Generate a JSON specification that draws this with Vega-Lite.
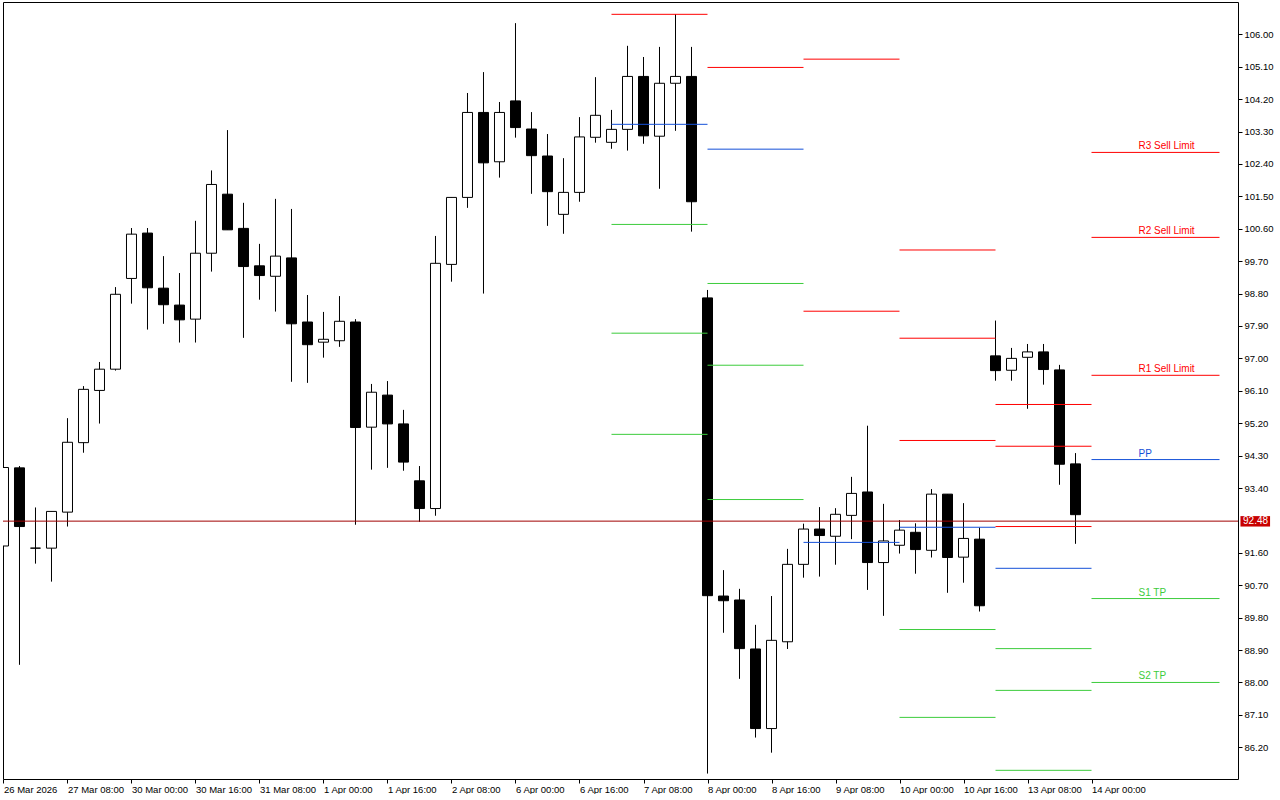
{
  "$schema": "https://vega.github.io/schema/vega-lite/v6.json",
  "width": 1235,
  "height": 777,
  "padding": {"left": 2, "top": 2, "right": 0, "bottom": 0},
  "autosize": {"type": "pad"},
  "background": "white",
  "config": {
    "font": "Liberation Sans",
    "view": {"stroke": "black", "strokeWidth": 1},
    "scale": {"continuousPadding": 0},
    "axis": {"grid": false, "domain": false, "tickColor": "black", "labelColor": "black", "tickSize": 4, "labelFontSize": 9.5, "labelFont": "Liberation Sans", "title": null, "labelOverlap": false}
  },
  "datasets": {
    "candles": [
      {"i": 0, "t": "26 Mar 16:00", "o": 91.79, "h": 93.97, "l": 91.79, "c": 93.97},
      {"i": 1, "t": "26 Mar 20:00", "o": 93.96, "h": 94.01, "l": 88.49, "c": 92.33},
      {"i": 2, "t": "27 Mar 00:00", "o": 91.73, "h": 92.86, "l": 91.30, "c": 91.73},
      {"i": 3, "t": "27 Mar 04:00", "o": 91.73, "h": 92.75, "l": 90.80, "c": 92.75},
      {"i": 4, "t": "27 Mar 08:00", "o": 92.73, "h": 95.34, "l": 92.33, "c": 94.67},
      {"i": 5, "t": "27 Mar 12:00", "o": 94.66, "h": 96.23, "l": 94.38, "c": 96.14},
      {"i": 6, "t": "27 Mar 16:00", "o": 96.11, "h": 96.90, "l": 95.19, "c": 96.70},
      {"i": 7, "t": "27 Mar 20:00", "o": 96.70, "h": 98.98, "l": 96.66, "c": 98.78},
      {"i": 8, "t": "30 Mar 00:00", "o": 99.22, "h": 100.62, "l": 98.52, "c": 100.45},
      {"i": 9, "t": "30 Mar 04:00", "o": 100.48, "h": 100.62, "l": 97.80, "c": 98.96},
      {"i": 10, "t": "30 Mar 08:00", "o": 98.95, "h": 99.84, "l": 97.96, "c": 98.49},
      {"i": 11, "t": "30 Mar 12:00", "o": 98.48, "h": 99.37, "l": 97.44, "c": 98.07},
      {"i": 12, "t": "30 Mar 16:00", "o": 98.09, "h": 100.82, "l": 97.44, "c": 99.92},
      {"i": 13, "t": "30 Mar 20:00", "o": 99.92, "h": 102.22, "l": 99.41, "c": 101.83},
      {"i": 14, "t": "31 Mar 00:00", "o": 101.56, "h": 103.34, "l": 100.57, "c": 100.57},
      {"i": 15, "t": "31 Mar 04:00", "o": 100.61, "h": 101.32, "l": 97.57, "c": 99.55},
      {"i": 16, "t": "31 Mar 08:00", "o": 99.57, "h": 100.18, "l": 98.63, "c": 99.30},
      {"i": 17, "t": "31 Mar 12:00", "o": 99.28, "h": 101.43, "l": 98.30, "c": 99.84},
      {"i": 18, "t": "31 Mar 16:00", "o": 99.79, "h": 101.15, "l": 96.35, "c": 97.96},
      {"i": 19, "t": "31 Mar 20:00", "o": 98.01, "h": 98.76, "l": 96.32, "c": 97.38},
      {"i": 20, "t": "1 Apr 00:00", "o": 97.45, "h": 98.29, "l": 97.02, "c": 97.53},
      {"i": 21, "t": "1 Apr 04:00", "o": 97.49, "h": 98.73, "l": 97.32, "c": 98.03},
      {"i": 22, "t": "1 Apr 08:00", "o": 98.01, "h": 98.09, "l": 92.38, "c": 95.08},
      {"i": 23, "t": "1 Apr 12:00", "o": 95.09, "h": 96.29, "l": 93.91, "c": 96.06},
      {"i": 24, "t": "1 Apr 16:00", "o": 95.98, "h": 96.37, "l": 93.96, "c": 95.18},
      {"i": 25, "t": "1 Apr 20:00", "o": 95.18, "h": 95.57, "l": 93.88, "c": 94.12},
      {"i": 26, "t": "2 Apr 00:00", "o": 93.60, "h": 94.01, "l": 92.46, "c": 92.83},
      {"i": 27, "t": "2 Apr 04:00", "o": 92.83, "h": 100.40, "l": 92.63, "c": 99.64},
      {"i": 28, "t": "2 Apr 08:00", "o": 99.61, "h": 101.47, "l": 99.13, "c": 101.47},
      {"i": 29, "t": "2 Apr 12:00", "o": 101.47, "h": 104.37, "l": 101.18, "c": 103.83},
      {"i": 30, "t": "2 Apr 16:00", "o": 103.83, "h": 104.95, "l": 98.80, "c": 102.43},
      {"i": 31, "t": "2 Apr 20:00", "o": 102.46, "h": 104.12, "l": 102.02, "c": 103.83},
      {"i": 32, "t": "6 Apr 00:00", "o": 104.15, "h": 106.31, "l": 103.13, "c": 103.41},
      {"i": 33, "t": "6 Apr 04:00", "o": 103.37, "h": 103.84, "l": 101.57, "c": 102.63},
      {"i": 34, "t": "6 Apr 08:00", "o": 102.62, "h": 103.23, "l": 100.68, "c": 101.63},
      {"i": 35, "t": "6 Apr 12:00", "o": 101.00, "h": 102.56, "l": 100.46, "c": 101.61},
      {"i": 36, "t": "6 Apr 16:00", "o": 101.61, "h": 103.70, "l": 101.35, "c": 103.15},
      {"i": 37, "t": "6 Apr 20:00", "o": 103.14, "h": 104.81, "l": 102.99, "c": 103.75},
      {"i": 38, "t": "7 Apr 00:00", "o": 103.00, "h": 103.90, "l": 102.82, "c": 103.36},
      {"i": 39, "t": "7 Apr 04:00", "o": 103.36, "h": 105.68, "l": 102.77, "c": 104.83},
      {"i": 40, "t": "7 Apr 08:00", "o": 104.83, "h": 105.37, "l": 102.96, "c": 103.18},
      {"i": 41, "t": "7 Apr 12:00", "o": 103.17, "h": 105.65, "l": 101.71, "c": 104.64},
      {"i": 42, "t": "7 Apr 16:00", "o": 104.64, "h": 106.56, "l": 103.32, "c": 104.83},
      {"i": 43, "t": "7 Apr 20:00", "o": 104.83, "h": 105.65, "l": 100.52, "c": 101.35},
      {"i": 44, "t": "8 Apr 00:00", "o": 98.68, "h": 98.90, "l": 85.47, "c": 90.41},
      {"i": 45, "t": "8 Apr 04:00", "o": 90.40, "h": 91.12, "l": 89.38, "c": 90.27},
      {"i": 46, "t": "8 Apr 08:00", "o": 90.29, "h": 90.60, "l": 88.10, "c": 88.94},
      {"i": 47, "t": "8 Apr 12:00", "o": 88.93, "h": 89.60, "l": 86.47, "c": 86.72},
      {"i": 48, "t": "8 Apr 16:00", "o": 86.72, "h": 90.40, "l": 86.05, "c": 89.17},
      {"i": 49, "t": "8 Apr 20:00", "o": 89.13, "h": 91.71, "l": 88.93, "c": 91.28},
      {"i": 50, "t": "9 Apr 00:00", "o": 91.28, "h": 92.41, "l": 90.91, "c": 92.26},
      {"i": 51, "t": "9 Apr 04:00", "o": 92.26, "h": 92.87, "l": 90.94, "c": 92.08},
      {"i": 52, "t": "9 Apr 08:00", "o": 92.06, "h": 92.84, "l": 91.27, "c": 92.67},
      {"i": 53, "t": "9 Apr 12:00", "o": 92.64, "h": 93.71, "l": 91.98, "c": 93.25},
      {"i": 54, "t": "9 Apr 16:00", "o": 93.29, "h": 95.13, "l": 90.57, "c": 91.33},
      {"i": 55, "t": "9 Apr 20:00", "o": 91.33, "h": 92.96, "l": 89.85, "c": 91.93},
      {"i": 56, "t": "10 Apr 00:00", "o": 91.81, "h": 92.51, "l": 91.58, "c": 92.23},
      {"i": 57, "t": "10 Apr 04:00", "o": 92.17, "h": 92.42, "l": 91.02, "c": 91.69},
      {"i": 58, "t": "10 Apr 08:00", "o": 91.67, "h": 93.37, "l": 91.47, "c": 93.23},
      {"i": 59, "t": "10 Apr 12:00", "o": 93.23, "h": 93.23, "l": 90.49, "c": 91.47},
      {"i": 60, "t": "10 Apr 16:00", "o": 91.48, "h": 92.98, "l": 90.77, "c": 92.00},
      {"i": 61, "t": "10 Apr 20:00", "o": 91.98, "h": 92.30, "l": 89.97, "c": 90.13},
      {"i": 62, "t": "13 Apr 00:00", "o": 97.07, "h": 98.05, "l": 96.38, "c": 96.66},
      {"i": 63, "t": "13 Apr 04:00", "o": 96.67, "h": 97.29, "l": 96.38, "c": 97.00},
      {"i": 64, "t": "13 Apr 08:00", "o": 97.03, "h": 97.40, "l": 95.60, "c": 97.18},
      {"i": 65, "t": "13 Apr 12:00", "o": 97.18, "h": 97.40, "l": 96.27, "c": 96.69},
      {"i": 66, "t": "13 Apr 16:00", "o": 96.68, "h": 96.82, "l": 93.49, "c": 94.06},
      {"i": 67, "t": "13 Apr 20:00", "o": 94.07, "h": 94.37, "l": 91.85, "c": 92.66}
    ],
    "pivots": [
      {"day": "7 Apr", "x0": 38, "x1": 44, "level": "R1", "kind": "R", "v": 106.555},
      {"day": "7 Apr", "x0": 38, "x1": 44, "level": "PP", "kind": "PP", "v": 103.50},
      {"day": "7 Apr", "x0": 38, "x1": 44, "level": "S1", "kind": "S", "v": 100.72},
      {"day": "7 Apr", "x0": 38, "x1": 44, "level": "S2", "kind": "S", "v": 97.70},
      {"day": "7 Apr", "x0": 38, "x1": 44, "level": "S3", "kind": "S", "v": 94.89},
      {"day": "8 Apr", "x0": 44, "x1": 50, "level": "R1", "kind": "R", "v": 105.08},
      {"day": "8 Apr", "x0": 44, "x1": 50, "level": "PP", "kind": "PP", "v": 102.81},
      {"day": "8 Apr", "x0": 44, "x1": 50, "level": "S1", "kind": "S", "v": 99.08},
      {"day": "8 Apr", "x0": 44, "x1": 50, "level": "S2", "kind": "S", "v": 96.81},
      {"day": "8 Apr", "x0": 44, "x1": 50, "level": "S3", "kind": "S", "v": 93.08},
      {"day": "9 Apr", "x0": 50, "x1": 56, "level": "R2", "kind": "R", "v": 105.31},
      {"day": "9 Apr", "x0": 50, "x1": 56, "level": "R1", "kind": "R", "v": 98.31},
      {"day": "9 Apr", "x0": 50, "x1": 56, "level": "PP", "kind": "PP", "v": 91.89},
      {"day": "10 Apr", "x0": 56, "x1": 62, "level": "R3", "kind": "R", "v": 100.01},
      {"day": "10 Apr", "x0": 56, "x1": 62, "level": "R2", "kind": "R", "v": 97.56},
      {"day": "10 Apr", "x0": 56, "x1": 62, "level": "R1", "kind": "R", "v": 94.72},
      {"day": "10 Apr", "x0": 56, "x1": 62, "level": "PP", "kind": "PP", "v": 92.31},
      {"day": "10 Apr", "x0": 56, "x1": 62, "level": "S1", "kind": "S", "v": 89.47},
      {"day": "10 Apr", "x0": 56, "x1": 62, "level": "S2", "kind": "S", "v": 87.03},
      {"day": "13 Apr", "x0": 62, "x1": 68, "level": "R3", "kind": "R", "v": 95.72},
      {"day": "13 Apr", "x0": 62, "x1": 68, "level": "R2", "kind": "R", "v": 94.56},
      {"day": "13 Apr", "x0": 62, "x1": 68, "level": "R1", "kind": "R", "v": 92.33},
      {"day": "13 Apr", "x0": 62, "x1": 68, "level": "PP", "kind": "PP", "v": 91.17},
      {"day": "13 Apr", "x0": 62, "x1": 68, "level": "S1", "kind": "S", "v": 88.94},
      {"day": "13 Apr", "x0": 62, "x1": 68, "level": "S2", "kind": "S", "v": 87.78},
      {"day": "13 Apr", "x0": 62, "x1": 68, "level": "S3", "kind": "S", "v": 85.56},
      {"day": "14 Apr", "x0": 68, "x1": 76, "level": "R3", "kind": "R", "v": 102.72, "label": "R3 Sell Limit"},
      {"day": "14 Apr", "x0": 68, "x1": 76, "level": "R2", "kind": "R", "v": 100.36, "label": "R2 Sell Limit"},
      {"day": "14 Apr", "x0": 68, "x1": 76, "level": "R1", "kind": "R", "v": 96.53, "label": "R1 Sell Limit"},
      {"day": "14 Apr", "x0": 68, "x1": 76, "level": "PP", "kind": "PP", "v": 94.19, "label": "PP"},
      {"day": "14 Apr", "x0": 68, "x1": 76, "level": "S1", "kind": "S", "v": 90.33, "label": "S1 TP"},
      {"day": "14 Apr", "x0": 68, "x1": 76, "level": "S2", "kind": "S", "v": 88.00, "label": "S2 TP"}
    ],
    "price": [{"p": 92.48, "txt": "92.48"}]
  },
  "layer": [
    {
      "data": {"name": "candles"},
      "mark": {"type": "rule", "stroke": "black", "strokeWidth": 1, "clip": true},
      "encoding": {
        "x": {
          "field": "i", "type": "quantitative",
          "scale": {"domain": [-0.031, 77.156], "nice": false, "zero": false, "padding": 0},
          "axis": {
            "values": [0, 4, 8, 12, 16, 20, 24, 28, 32, 36, 40, 44, 48, 52, 56, 60, 64, 68],
            "tickCount": 100,
            "labelExpr": "['26 Mar 2026','27 Mar 08:00','30 Mar 00:00','30 Mar 16:00','31 Mar 08:00','1 Apr 00:00','1 Apr 16:00','2 Apr 08:00','6 Apr 00:00','6 Apr 16:00','7 Apr 08:00','8 Apr 00:00','8 Apr 16:00','9 Apr 08:00','10 Apr 00:00','10 Apr 16:00','13 Apr 08:00','14 Apr 00:00'][round(datum.value/4)]",
            "labelAlign": "left", "labelBaseline": "top", "labelPadding": 1, "labelFlush": false, "labelOverlap": false
          }
        },
        "y": {
          "field": "l", "type": "quantitative",
          "scale": {"domain": [85.319, 106.897], "nice": false, "zero": false, "padding": 0},
          "axis": {
            "orient": "right",
            "values": [86.2, 87.1, 88.0, 88.9, 89.8, 90.7, 91.6, 93.4, 94.3, 95.2, 96.1, 97.0, 97.9, 98.8, 99.7, 100.6, 101.5, 102.4, 103.3, 104.2, 105.1, 106.0],
            "tickCount": 100,
            "format": ".2f", "labelPadding": 2, "labelAlign": "left", "labelBaseline": "middle", "labelOverlap": false, "labelFlush": false
          }
        },
        "y2": {"field": "h"}
      }
    },
    {
      "data": {"name": "candles"},
      "mark": {"type": "bar", "width": 10, "stroke": "black", "strokeWidth": 1, "clip": true},
      "encoding": {
        "x": {"field": "i", "type": "quantitative"},
        "y": {"field": "o", "type": "quantitative"},
        "y2": {"field": "c"},
        "fill": {"condition": {"test": "datum.c < datum.o", "value": "black"}, "value": "white"}
      }
    },
    {
      "data": {"name": "pivots"},
      "mark": {"type": "rule", "strokeWidth": 1, "clip": true},
      "encoding": {
        "x": {"field": "x0", "type": "quantitative"},
        "x2": {"field": "x1"},
        "y": {"field": "v", "type": "quantitative"},
        "color": {"field": "kind", "type": "nominal", "scale": {"domain": ["R", "PP", "S"], "range": ["#ff0000", "#1450d8", "#3ccc3c"]}, "legend": null}
      }
    },
    {
      "data": {"name": "pivots"},
      "transform": [{"filter": "isValid(datum.label)"}],
      "mark": {"type": "text", "align": "left", "baseline": "alphabetic", "dx": 47, "dy": -3, "fontSize": 10, "font": "Liberation Sans"},
      "encoding": {
        "x": {"field": "x0", "type": "quantitative"},
        "y": {"field": "v", "type": "quantitative"},
        "text": {"field": "label"},
        "color": {"field": "kind", "type": "nominal", "legend": null}
      }
    },
    {
      "data": {"name": "price"},
      "mark": {"type": "rule", "stroke": "#a00000", "strokeWidth": 1, "clip": true},
      "encoding": {
        "y": {"field": "p", "type": "quantitative"}
      }
    },
    {
      "data": {"name": "price"},
      "mark": {"type": "rect", "fill": "#c80000", "clip": false},
      "encoding": {
        "x": {"datum": 77.31, "type": "quantitative"},
        "x2": {"datum": 79.16},
        "y": {"datum": 92.62, "type": "quantitative"},
        "y2": {"datum": 92.33}
      }
    },
    {
      "data": {"name": "price"},
      "mark": {"type": "text", "align": "left", "baseline": "middle", "fill": "white", "fontSize": 10, "font": "Liberation Sans", "clip": false},
      "encoding": {
        "x": {"datum": 77.47, "type": "quantitative"},
        "y": {"field": "p", "type": "quantitative"},
        "text": {"field": "txt"}
      }
    }
  ]
}
